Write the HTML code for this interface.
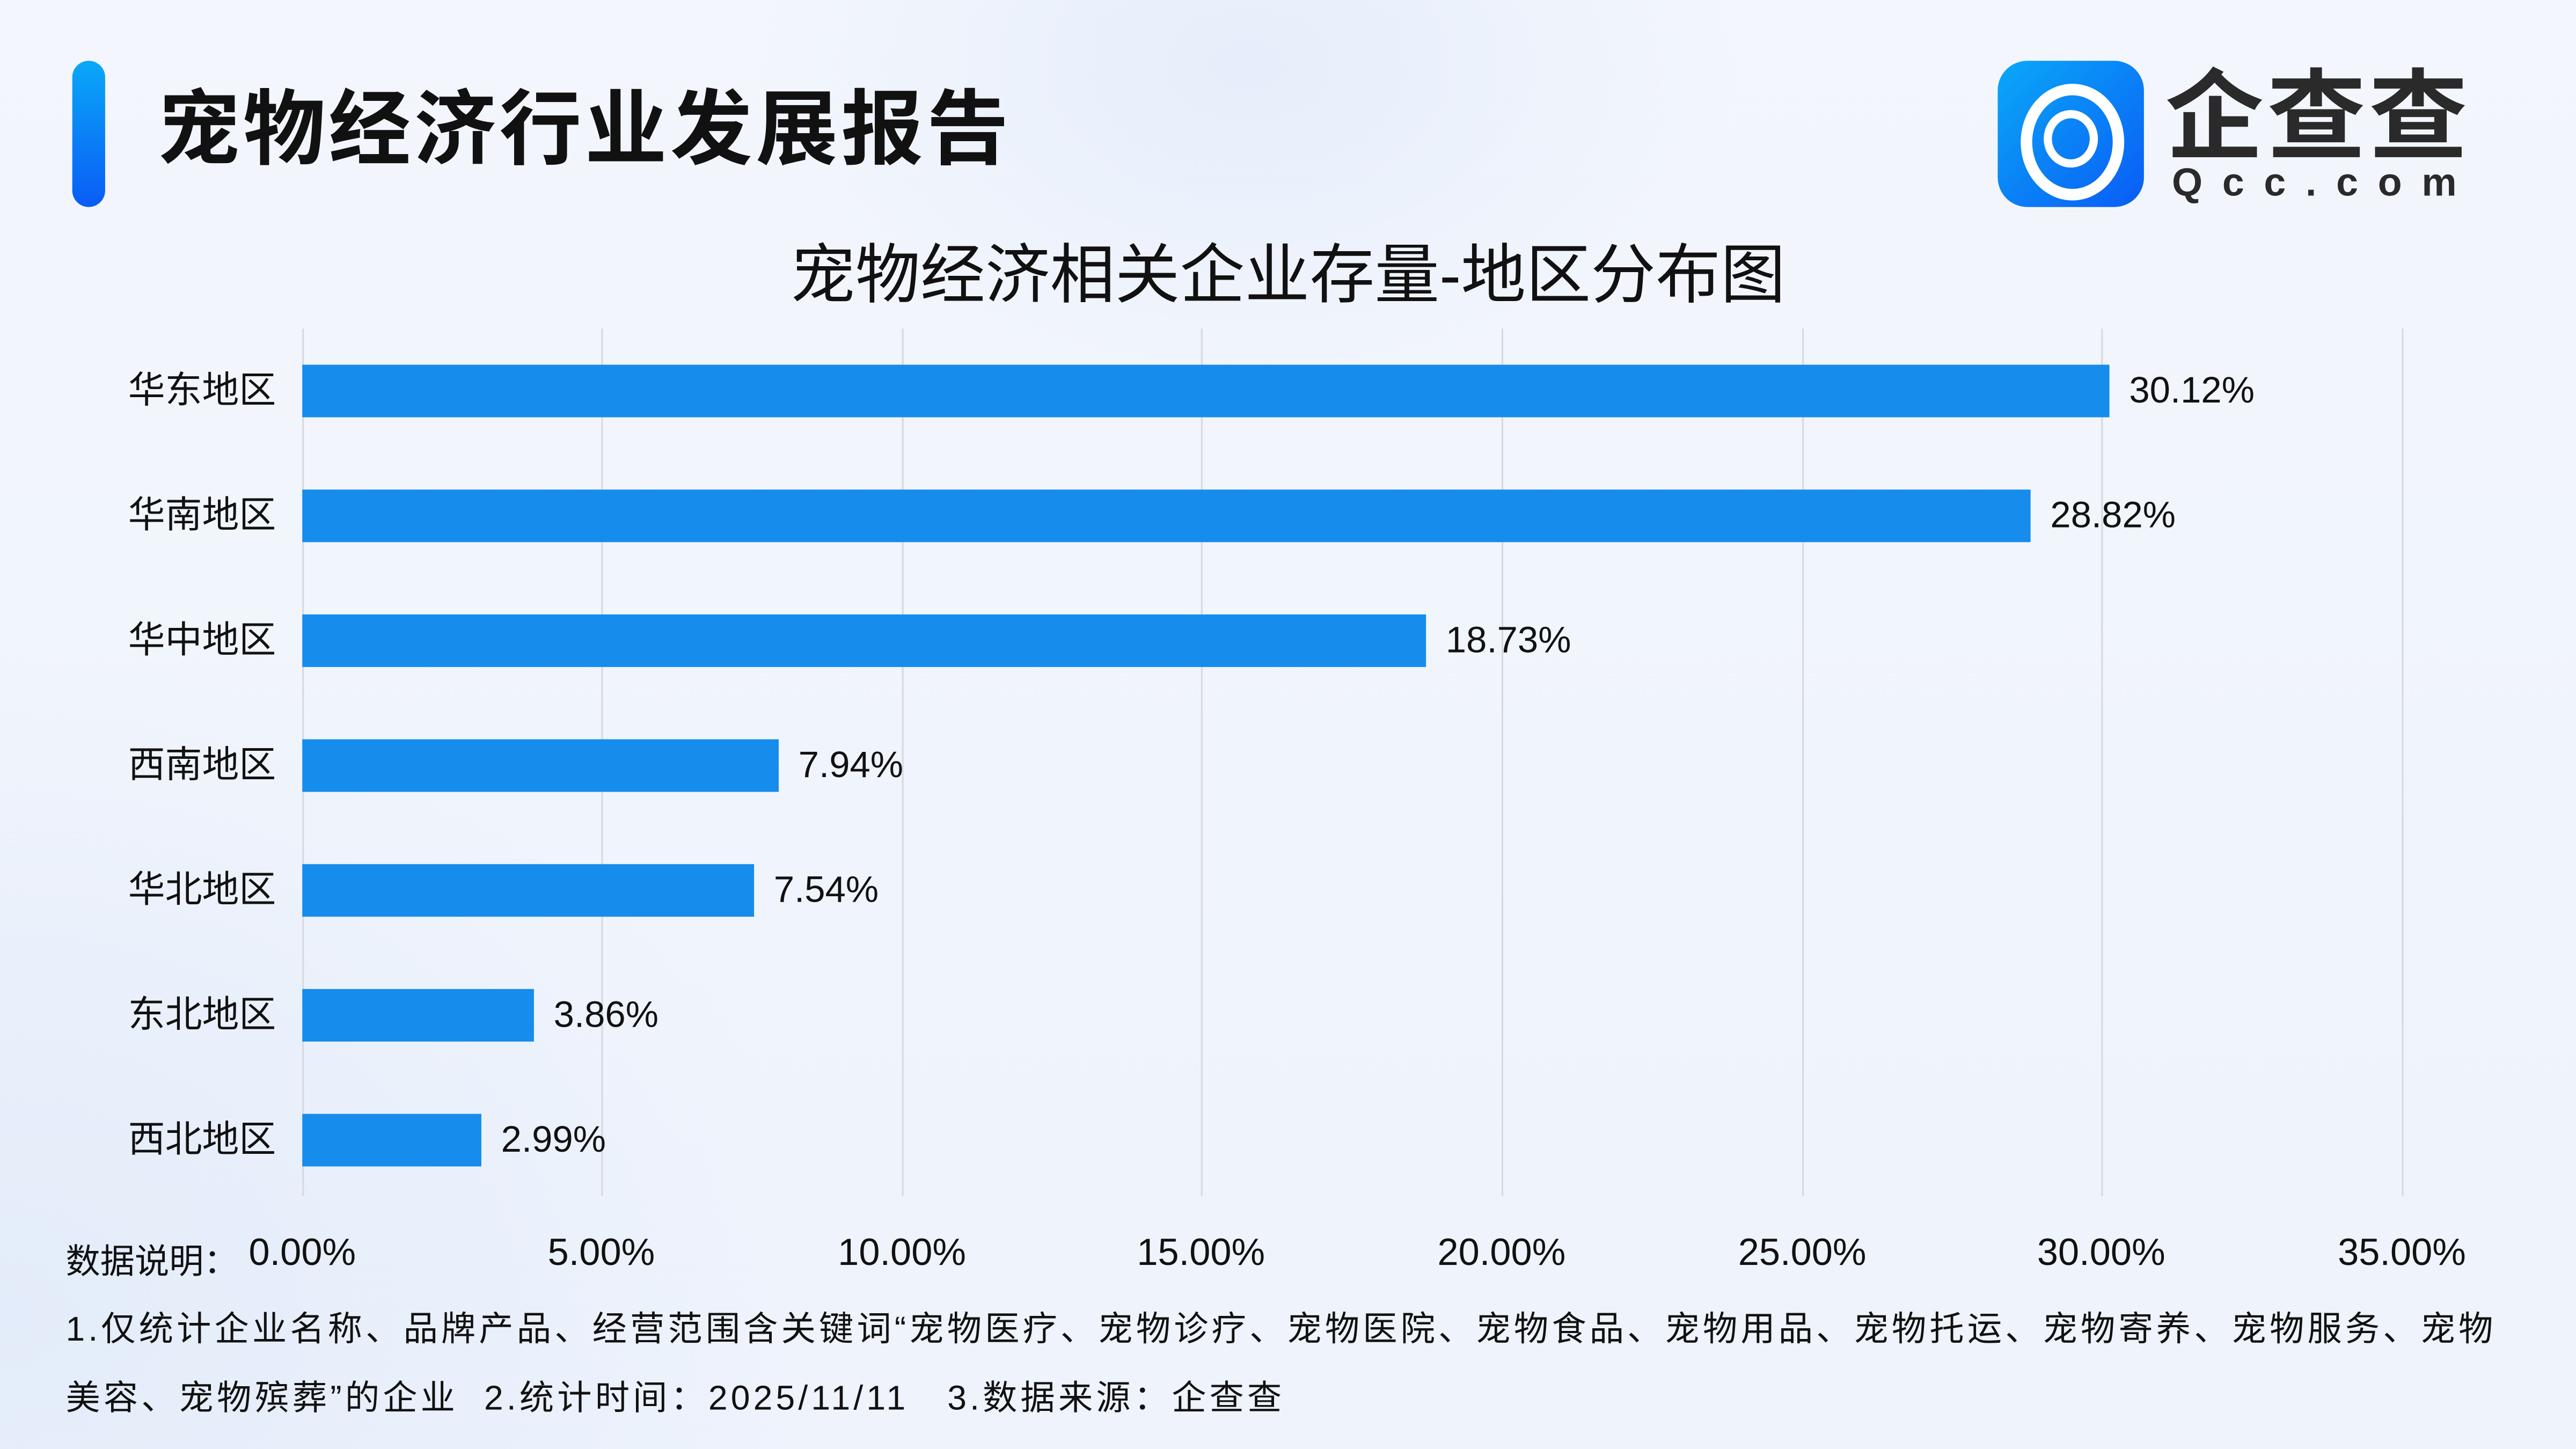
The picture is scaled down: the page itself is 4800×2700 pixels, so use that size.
<!DOCTYPE html>
<html><head><meta charset="utf-8">
<style>
html,body{margin:0;padding:0;width:4800px;height:2700px;overflow:hidden;}
body{background:#f1f5fc;}
#s{position:absolute;left:0;top:0;width:1568px;height:882px;transform:scale(3.0612245);transform-origin:0 0;
background:radial-gradient(ellipse 300px 200px at 760px 40px,#e6eefb 0%,rgba(230,238,251,0) 100%),
radial-gradient(ellipse 500px 400px at 0px 800px,#e3ecfa 0%,rgba(227,236,250,0) 100%),
linear-gradient(180deg,#f3f6fc 0%,#eef3fc 100%);
font-family:"Liberation Sans","Noto Sans CJK SC",sans-serif;color:#111;}
.a{position:absolute;white-space:nowrap;}
.g{position:absolute;top:200px;height:528px;width:1px;background:#d6d9df;}
.bar{position:absolute;left:184px;height:32px;background:#168cec;}
.cat{position:absolute;right:1400px;font-size:22.5px;line-height:32px;}
.val{position:absolute;font-size:22.5px;line-height:32px;}
.t{position:absolute;top:749px;font-size:23px;width:140px;margin-left:-70px;text-align:center;}
.f{position:absolute;left:40px;font-size:21px;letter-spacing:2px;white-space:nowrap;}
</style></head><body><div id="s">
<div class="a" style="left:44px;top:37px;width:20px;height:89px;border-radius:10px;background:linear-gradient(180deg,#0aa8f8,#0a5cf5);"></div>
<div class="a" style="left:96px;top:46px;font-size:50px;font-weight:bold;letter-spacing:2px;line-height:66px;">宠物经济行业发展报告</div>
<div class="a" style="left:1216px;top:37px;width:89px;height:89px;border-radius:18px;background:linear-gradient(135deg,#0aa8f8,#0a5cf5);overflow:hidden;">
<div class="a" style="left:14px;top:14px;width:49px;height:57px;border:7px solid #fff;border-radius:50%;"></div>
<div class="a" style="left:28px;top:30px;width:23px;height:25px;border:5px solid #fff;border-radius:50%;"></div>
</div>
<div class="a" style="left:1318px;top:36px;font-size:60px;font-weight:bold;color:#2a2a2a;line-height:72px;letter-spacing:2px;">企查查</div>
<div class="a" style="left:1322px;top:98px;font-size:24px;font-weight:bold;color:#2a2a2a;letter-spacing:12px;">Qcc.com</div>
<div class="a" style="left:0;width:1568px;top:144px;text-align:center;font-size:39.5px;line-height:48px;">宠物经济相关企业存量-地区分布图</div>
<div class="g" style="left:184px"></div><div class="g" style="left:366px"></div><div class="g" style="left:549px"></div><div class="g" style="left:731px"></div><div class="g" style="left:914px"></div><div class="g" style="left:1097px"></div><div class="g" style="left:1279px"></div><div class="g" style="left:1462px"></div>
<div class="bar" style="top:222px;width:1100px"></div><div class="cat" style="top:222px">华东地区</div><div class="val" style="top:222px;left:1296px">30.12%</div>
<div class="bar" style="top:298px;width:1052px"></div><div class="cat" style="top:298px">华南地区</div><div class="val" style="top:298px;left:1248px">28.82%</div>
<div class="bar" style="top:374px;width:684px"></div><div class="cat" style="top:374px">华中地区</div><div class="val" style="top:374px;left:880px">18.73%</div>
<div class="bar" style="top:450px;width:290px"></div><div class="cat" style="top:450px">西南地区</div><div class="val" style="top:450px;left:486px">7.94%</div>
<div class="bar" style="top:526px;width:275px"></div><div class="cat" style="top:526px">华北地区</div><div class="val" style="top:526px;left:471px">7.54%</div>
<div class="bar" style="top:602px;width:141px"></div><div class="cat" style="top:602px">东北地区</div><div class="val" style="top:602px;left:337px">3.86%</div>
<div class="bar" style="top:678px;width:109px"></div><div class="cat" style="top:678px">西北地区</div><div class="val" style="top:678px;left:305px">2.99%</div>
<div class="t" style="left:184px">0.00%</div><div class="t" style="left:366px">5.00%</div><div class="t" style="left:549px">10.00%</div><div class="t" style="left:731px">15.00%</div><div class="t" style="left:914px">20.00%</div><div class="t" style="left:1097px">25.00%</div><div class="t" style="left:1279px">30.00%</div><div class="t" style="left:1462px">35.00%</div>
<div class="a" style="left:40px;top:752px;font-size:21px;">数据说明：</div>
<div class="f" style="top:793px;">1.仅统计企业名称、品牌产品、经营范围含关键词“宠物医疗、宠物诊疗、宠物医院、宠物食品、宠物用品、宠物托运、宠物寄养、宠物服务、宠物</div>
<div class="f" style="top:835px;">美容、宠物殡葬”的企业&nbsp;&nbsp;2.统计时间：2025/11/11&nbsp;&nbsp;&nbsp;3.数据来源：企查查</div>
</div></body></html>
